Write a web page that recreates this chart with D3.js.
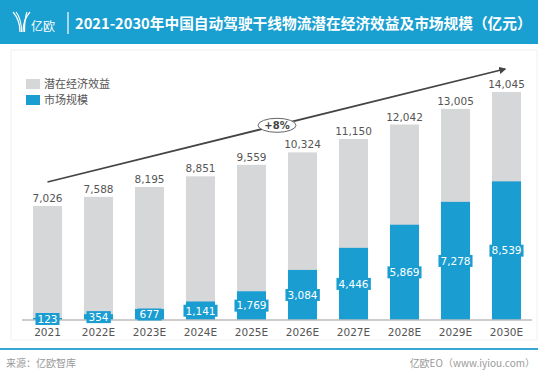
<!DOCTYPE html>
<html><head><meta charset="utf-8">
<script src="https://cdn.jsdelivr.net/npm/d3@7"></script>
<style>
html,body{margin:0;padding:0;background:#fff;}
svg{display:block;}
</style></head>
<body>
<script>
const categories = ["2021","2022E","2023E","2024E","2025E","2026E","2027E","2028E","2029E","2030E"];
const potentialBenefit = [7026,7588,8195,8851,9559,10324,11150,12042,13005,14045];
const marketSize = [123,354,677,1141,1769,3084,4446,5869,7278,8539];
const seriesNames = ["潜在经济效益","市场规模"];
const growthLabel = "+8%";
const titleText = "2021-2030年中国自动驾驶干线物流潜在经济效益及市场规模（亿元）";
const sourceText = "来源：亿欧智库";
const brandText = "亿欧EO（www.iyiou.com）";

const W = 550, H = 379;
const gray = "#d6d7d9", blue = "#1a9dd1";
const numFont = "'DejaVu Sans', Verdana, sans-serif";
const cjkFont = "'Noto Sans CJK SC', 'Noto Sans', sans-serif";

const svg = d3.select("body").append("svg").attr("width", W).attr("height", H);

// header
svg.append("rect").attr("x",0).attr("y",0).attr("width",538).attr("height",44).attr("fill","#1a9fd1");
// logo
const logo = svg.append("g").attr("transform","translate(13,12)").attr("fill","none").attr("stroke","#fff").attr("stroke-width",1.2);
[[0,0,7,8,7,20],[3,0,8.5,7,8.5,20],[17,0,10,8,10,20],[14,0,11.5,6.5,11.5,20]].forEach(p=>{
  logo.append("path").attr("d",`M${p[0]},${p[1]} Q${p[2]},${p[3]} ${p[4]},${p[5]}`);
});
svg.append("text").attr("x",31).attr("y",31).attr("fill","#fff").attr("font-family",cjkFont).attr("font-size",12).text("亿欧");
svg.append("line").attr("x1",68).attr("x2",68).attr("y1",12).attr("y2",34).attr("stroke","#fff").attr("stroke-width",1.2);
svg.append("text").attr("x",75).attr("y",28.5).attr("fill","#fff").attr("font-family",cjkFont)
  .attr("font-weight","bold").attr("font-size",14.7).text(titleText);

// card border
svg.append("rect").attr("x",11).attr("y",50).attr("width",526).attr("height",290).attr("fill","none").attr("stroke","#f0f0f0").attr("stroke-width",1);

// bottom line
svg.append("rect").attr("x",0).attr("y",348).attr("width",538).attr("height",2).attr("fill","#3aa6d3");
svg.append("text").attr("x",6).attr("y",367).attr("fill","#9a9a9a").attr("font-family",cjkFont).attr("font-size",10).text(sourceText);
svg.append("text").attr("x",535).attr("y",367).attr("text-anchor","end").attr("fill","#9a9a9a").attr("font-family",cjkFont).attr("font-size",10).text(brandText);

// scales
const x = d3.scaleBand().domain(categories).range([22,532]).paddingInner(0.43).paddingOuter(0.215);
const y = d3.scaleLinear().domain([0,14045]).range([320,92]);

// gray bars
svg.append("g").selectAll("rect").data(potentialBenefit).join("rect")
  .attr("x",(d,i)=>x(categories[i])).attr("width",x.bandwidth())
  .attr("y",d=>y(d)).attr("height",d=>y(0)-y(d)).attr("fill",gray);
// blue bars
svg.append("g").selectAll("rect").data(marketSize).join("rect")
  .attr("x",(d,i)=>x(categories[i])).attr("width",x.bandwidth())
  .attr("y",d=>y(d)).attr("height",d=>y(0)-y(d)).attr("fill",blue);

// axis
const xAxis = svg.append("g").attr("transform",`translate(0,${y(0)})`).call(d3.axisBottom(x).tickSize(0).tickPadding(9));
xAxis.select(".domain").attr("stroke","#bdbdbd").attr("stroke-width",1.5).attr("d","M22,0H532");
xAxis.selectAll("text").attr("font-family",numFont).attr("font-size",10.5).attr("fill","#555");

// gray labels
svg.append("g").selectAll("text").data(potentialBenefit).join("text")
  .attr("x",(d,i)=>x(categories[i])+x.bandwidth()/2).attr("y",d=>y(d)-4)
  .attr("text-anchor","middle").attr("font-family",numFont).attr("font-size",10.5).attr("fill","#555")
  .text(d=>d3.format(",")(d));

// blue labels with background box
const fmt = d3.format(",");
const lg = svg.append("g");
marketSize.forEach((d,i)=>{
  const cx = x(categories[i])+x.bandwidth()/2;
  const cy = (y(d)+y(0))/2;
  const g = lg.append("g");
  const r = g.append("rect").attr("fill",blue);
  const t = g.append("text").attr("x",cx).attr("y",cy).attr("dy","0.36em").attr("text-anchor","middle")
    .attr("font-family",numFont).attr("font-size",10.5).attr("fill","#fff").text(fmt(d));
  const bb = t.node().getBBox();
  r.attr("x",bb.x-2).attr("y",cy-6).attr("width",bb.width+4).attr("height",12);
});

// legend
const legend = svg.append("g").attr("transform","translate(26,79)");
[gray,blue].forEach((c,i)=>{
  legend.append("rect").attr("x",0).attr("y",i*16).attr("width",14).attr("height",10).attr("fill",c);
  legend.append("text").attr("x",18).attr("y",i*16+5).attr("dy","0.36em").attr("font-family",cjkFont)
    .attr("font-size",11).attr("fill","#555").text(seriesNames[i]);
});

// growth arrow
const defs = svg.append("defs");
defs.append("marker").attr("id","arr").attr("viewBox","0 0 10 10").attr("refX",8).attr("refY",5)
  .attr("markerWidth",4).attr("markerHeight",4).attr("orient","auto")
  .append("path").attr("d","M0,0L10,5L0,10z").attr("fill","#444");
const ax1 = x(categories[0])+x.bandwidth()/2, ay1 = 182, ax2 = 505, ay2 = 69;
svg.append("line").attr("x1",ax1).attr("y1",ay1).attr("x2",ax2).attr("y2",ay2)
  .attr("stroke","#444").attr("stroke-width",1.8).attr("marker-end","url(#arr)");
const ex = 277, ey = ay1 + (ay2-ay1)*(ex-ax1)/(ax2-ax1);
svg.append("ellipse").attr("cx",ex).attr("cy",ey).attr("rx",19).attr("ry",7).attr("fill","#fff").attr("stroke","#666").attr("stroke-width",1);
svg.append("text").attr("x",ex).attr("y",ey).attr("dy","0.36em").attr("text-anchor","middle")
  .attr("font-family",numFont).attr("font-weight","bold").attr("font-size",10).attr("fill","#444").text(growthLabel);
</script>
</body></html>
